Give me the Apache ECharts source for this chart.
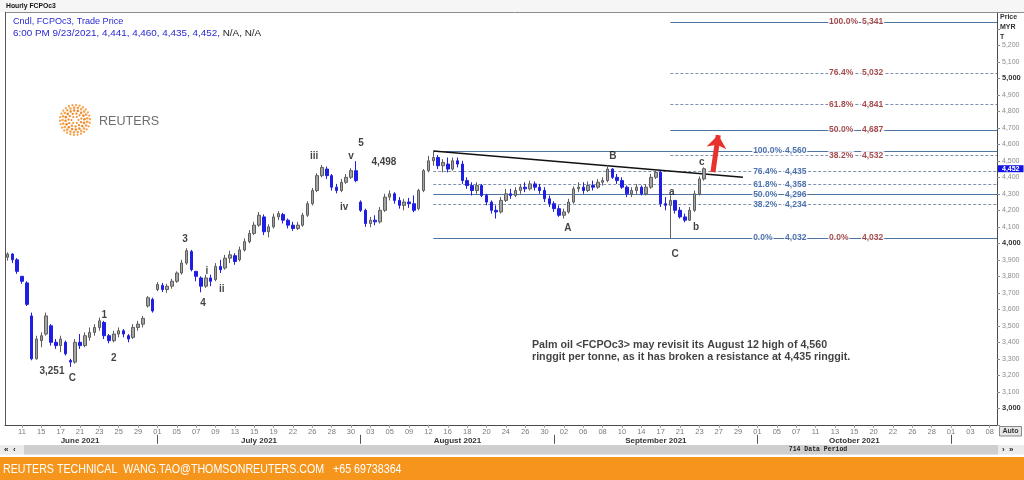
<!DOCTYPE html>
<html>
<head>
<meta charset="utf-8">
<script src="https://cdn.jsdelivr.net/npm/echarts/dist/echarts.min.js"></script>
<style>
html,body{margin:0;padding:0;background:#ffffff;}
#chart{width:1024px;height:480px;}
</style>
</head>
<body>
<div id="chart"></div>
<script>
// ---------------- DATA ----------------
const dayLabels = ['11','15','17','21','23','25','29','01','05','07','09','13','15','19','22','26','28','30',
  '03','05','09','12','16','18','20','24','26','30','02','06','08','10','14','17','21','23','27','29',
  '01','05','07','11','13','15','20','22','26','28','01','03','08'];
const monthNames = ['June 2021','July 2021','August 2021','September 2021','October 2021'];
const monthLabelSlots = [15, 52, 93, 134, 175];
const monthSepSlots = [31, 73, 113, 155, 195];

const opens = [3915,3935,3900,3800,3760,3560,3300,3410,3450,3500,
  3400,3380,3400,3290,3280,3400,3380,3430,3460,3490,
  3520,3440,3410,3450,3470,3440,3430,3490,3510,3620,
  3660,3720,3745,3720,3740,3770,3820,3880,3950,3830,
  3790,3740,3790,3780,3860,3850,3910,3925,3900,3960,
  4010,4060,4110,4160,4070,4100,4160,4175,4140,4110,
  4090,4110,4170,4240,4320,4410,4450,4410,4340,4320,
  4370,4400,4440,4250,4200,4120,4140,4130,4200,4280,
  4300,4260,4230,4250,4240,4210,4320,4440,4500,4520,
  4470,4480,4450,4500,4480,4380,4350,4320,4350,4290,
  4250,4200,4190,4260,4300,4290,4320,4340,4330,4360,
  4340,4320,4270,4240,4210,4170,4190,4250,4330,4340,
  4320,4350,4340,4370,4380,4450,4400,4380,4340,4300,
  4320,4340,4300,4340,4400,4430,4240,4230,4260,4200,
  4160,4140,4200,4300,4390];
const closes = [3935,3900,3830,3770,3630,3300,3420,3440,3560,3400,
  3380,3420,3330,3280,3400,3380,3440,3460,3490,3530,
  3440,3410,3450,3470,3450,3420,3490,3510,3545,3670,
  3590,3750,3720,3740,3770,3820,3880,3955,3840,3800,
  3740,3790,3770,3860,3840,3910,3930,3890,3960,4010,
  4060,4110,4170,4070,4100,4160,4180,4140,4110,4090,
  4110,4170,4240,4320,4410,4460,4410,4340,4320,4370,
  4400,4440,4380,4200,4120,4140,4130,4200,4280,4300,
  4260,4230,4250,4240,4200,4320,4440,4500,4520,4470,
  4490,4450,4500,4480,4380,4350,4320,4350,4290,4250,
  4200,4190,4260,4300,4290,4320,4340,4330,4360,4340,
  4320,4270,4240,4210,4170,4190,4250,4330,4340,4320,
  4350,4340,4370,4380,4450,4400,4380,4340,4300,4320,
  4340,4300,4340,4400,4430,4240,4230,4260,4200,4160,
  4140,4200,4300,4390,4452];
const lows = [3895,3880,3815,3755,3620,3291,3295,3370,3440,3380,
  3360,3340,3320,3251,3270,3360,3370,3410,3440,3470,
  3420,3394,3400,3430,3430,3400,3420,3470,3490,3610,
  3580,3710,3705,3700,3725,3760,3810,3870,3830,3770,
  3703,3730,3740,3770,3820,3840,3880,3870,3890,3950,
  4000,4050,4100,4050,4036,4090,4140,4120,4090,4075,
  4080,4100,4160,4230,4310,4400,4390,4320,4303,4310,
  4360,4390,4370,4190,4100,4097,4110,4120,4190,4260,
  4240,4210,4200,4215,4188,4200,4310,4430,4470,4450,
  4430,4430,4440,4460,4360,4330,4290,4300,4280,4230,
  4180,4150,4180,4250,4270,4280,4300,4310,4320,4320,
  4300,4250,4220,4190,4160,4150,4180,4240,4310,4300,
  4310,4320,4330,4350,4370,4390,4360,4330,4280,4280,
  4300,4290,4290,4330,4390,4220,4200,4032,4180,4150,
  4127,4135,4190,4290,4380];
const highs = [3945,3940,3910,3800,3770,3580,3440,3460,3580,3510,
  3420,3440,3410,3300,3420,3450,3460,3490,3510,3550,
  3530,3450,3470,3490,3480,3450,3510,3530,3560,3680,
  3670,3765,3760,3755,3785,3830,3900,3970,3960,3830,
  3800,3810,3810,3880,3900,3930,3955,3940,3980,4030,
  4080,4130,4190,4175,4115,4180,4195,4185,4150,4130,
  4130,4185,4255,4335,4425,4475,4465,4420,4360,4390,
  4420,4455,4498,4260,4210,4160,4170,4220,4300,4321,
  4310,4280,4270,4275,4290,4330,4450,4530,4560,4535,
  4510,4520,4520,4520,4500,4400,4370,4370,4360,4300,
  4260,4230,4280,4330,4330,4340,4360,4370,4380,4375,
  4360,4340,4290,4255,4230,4210,4270,4345,4370,4370,
  4375,4380,4390,4400,4473,4455,4420,4400,4350,4340,
  4360,4350,4360,4420,4445,4440,4280,4290,4260,4220,
  4180,4220,4320,4405,4460];

const bluePct = ['100.0%','76.4%','61.8%','50.0%','38.2%','0.0%'];
const blueVal = [4560,4435,4358,4296,4234,4032];
const redPct  = ['100.0%','76.4%','61.8%','50.0%','38.2%','0.0%'];
const redVal  = [5341,5032,4841,4687,4532,4032];
const blueAnchorSlot = 88;   // Aug 12 high
const redAnchorSlot = 137;   // wave C low

const trendStart = [88, 4560];
const trendEnd = [152, 4401];
const arrowFrom = [145.8, 4432];
const arrowTo = [146.9, 4656];

const waveText  = ['3,251','C','1','2','3','i','4','ii','iii','iv','v','5','4,498','A','B','C','a','b','c'];
const waveSlot  = [9.2,13.4,20.0,22.0,36.7,41.2,40.4,44.3,63.4,69.6,71.0,73.1,77.8,115.8,125.1,138.0,137.3,142.3,143.5];
const wavePrice = [3226,3184,3565,3305,4026,3832,3638,3723,4529,4220,4529,4608,4493,4093,4529,3935,4311,4099,4493];

const noteText = 'Palm oil <FCPOc3> may revisit its August 12 high of 4,560\nringgit per tonne, as it has broken a resistance at 4,435 ringgit.';
const noteAnchor = [108.4, 3347];

// ---------------- BUILD ----------------
const FONT = '"Liberation Sans", Arial, Helvetica, sans-serif';
const fmt = v => String(v).replace(/\B(?=(\d{3})+(?!\d))/g, ',');
const N_SLOTS = 205;
const END_X = N_SLOTS - 0.5;

const slotLabels = new Array(N_SLOTS).fill('');
dayLabels.forEach((d, k) => { slotLabels[3 + 4 * k] = d; });
const monthSlotLabels = new Array(N_SLOTS).fill('');
monthNames.forEach((m, k) => { monthSlotLabels[monthLabelSlots[k]] = m; });
const sepSet = new Set(monthSepSlots);

const candleData = opens.map((o, i) => [o, closes[i], lows[i], highs[i]]);
const lastClose = closes[closes.length - 1];

const SOLID = new Set(['100.0%', '50.0%', '0.0%']);
function fibStyle(p) {
  return SOLID.has(p) ? {color: '#4f76a3', width: 1, type: 'solid'}
                      : {color: '#7e90ae', width: 1, type: [3, 2]};
}
const fibLines = [];
blueVal.forEach((v, k) => fibLines.push([{coord: [blueAnchorSlot, v], lineStyle: fibStyle(bluePct[k])}, {coord: [END_X, v]}]));
redVal.forEach((v, k) => fibLines.push([{coord: [redAnchorSlot, v], lineStyle: fibStyle(redPct[k])}, {coord: [END_X, v]}]));
fibLines.push([{coord: trendStart, lineStyle: {color: '#111', width: 1.5, type: 'solid'}}, {coord: trendEnd}]);

const BLUE_T = '#1f4f98', RED_T = '#8e1b1b';
const BLUE_PCT_X = 153.9, BLUE_VAL_X = 160.5, RED_PCT_X = 169.6, RED_VAL_X = 176.4;
const fibLabelData = [];
bluePct.forEach((p, k) => {
  fibLabelData.push({name: p, value: [BLUE_PCT_X, blueVal[k]], label: {color: BLUE_T}});
  fibLabelData.push({name: fmt(blueVal[k]), value: [BLUE_VAL_X, blueVal[k]], label: {color: BLUE_T}});
});
redPct.forEach((p, k) => {
  fibLabelData.push({name: p, value: [RED_PCT_X, redVal[k]], label: {color: RED_T}});
  fibLabelData.push({name: fmt(redVal[k]), value: [RED_VAL_X, redVal[k]], label: {color: RED_T}});
});

const waveData = waveText.map((t, i) => ({name: t, value: [waveSlot[i], wavePrice[i]]}));

// Reuters logo dots (decoration)
const logo = [];
[[3.5, 6, 1.0], [6.5, 11, 1.15], [9.5, 16, 1.3], [12.4, 21, 1.3], [15.0, 26, 1.15]].forEach(([r, n, s], ri) => {
  for (let j = 0; j < n; j++) {
    const a = j / n * 2 * Math.PI + ri * 0.35;
    logo.push({type: 'circle', silent: true, shape: {cx: 75 + r * Math.cos(a), cy: 120 + r * Math.sin(a), r: s},
      style: {fill: ri >= 3 ? '#f4a24e' : '#ee8a2b'}});
  }
});

function txt(x, y, text, font, fill, align, sx) {
  return {type: 'text', x: x, y: y, silent: true, scaleX: sx || 1,
    style: {text: text, font: font, fill: fill, align: align || 'left', textAlign: align || 'left',
      verticalAlign: 'middle', textVerticalAlign: 'middle'}};
}

const graphics = [
  {type: 'rect', silent: true, shape: {x: 0, y: 0, width: 1024, height: 12}, style: {fill: '#f6f6f6'}},
  {type: 'line', silent: true, shape: {x1: 5, y1: 12.5, x2: 1024, y2: 12.5}, style: {stroke: '#8c8c8c', lineWidth: 1}},
  {type: 'line', silent: true, shape: {x1: 5.5, y1: 12, x2: 5.5, y2: 425}, style: {stroke: '#555', lineWidth: 1}},
  txt(6, 6, 'Hourly FCPOc3', 'bold 6.8px ' + FONT, '#111'),
  txt(13, 21.7, 'Cndl, FCPOc3, Trade Price', '9.1px ' + FONT, '#2a2ad0'),
  {type: 'text', x: 13, y: 33.3, silent: true, style: {
    text: '{a|6:00 PM 9/23/2021, 4,441, 4,460, 4,435, 4,452,} {k|N/A, N/A}',
    font: '9.9px ' + FONT, verticalAlign: 'middle', textVerticalAlign: 'middle',
    rich: {a: {fill: '#2a2ad0', color: '#2a2ad0', fontSize: 9.9, fontFamily: FONT},
           k: {fill: '#222', color: '#222', fontSize: 9.9, fontFamily: FONT}}}},
  txt(1000, 17, 'Price', 'bold 7px ' + FONT, '#333'),
  txt(1000, 27, 'MYR', 'bold 7px ' + FONT, '#333'),
  txt(1000, 37, 'T', 'bold 7px ' + FONT, '#333'),
  txt(99, 121.5, 'REUTERS', '12.6px ' + FONT, '#6e6e6e'),
  {type: 'rect', silent: true, shape: {x: 999.5, y: 426.5, width: 22, height: 9.5}, style: {fill: '#e6e6e6', stroke: '#8a8a8a', lineWidth: 1}},
  txt(1010.5, 431.5, 'Auto', 'bold 7px ' + FONT, '#333', 'center'),
  {type: 'rect', silent: true, shape: {x: 0, y: 445, width: 1024, height: 9.5}, style: {fill: '#ececec'}},
  {type: 'rect', silent: true, shape: {x: 24, y: 445, width: 974, height: 9.5}, style: {fill: '#cfcfcf'}},
  txt(4, 449.5, '\u00ab  \u2039', 'bold 8px ' + FONT, '#222'),
  txt(1002, 449.5, '\u203a  \u00bb', 'bold 8px ' + FONT, '#222'),
  txt(818, 449.5, '714 Data Period', 'bold 6.5px "Liberation Mono", "DejaVu Sans Mono", monospace', '#222', 'center'),
  {type: 'rect', silent: true, shape: {x: 0, y: 457, width: 1024, height: 23}, style: {fill: '#f6951c'}},
  txt(3, 469.5, 'REUTERS TECHNICAL  WANG.TAO@THOMSONREUTERS.COM   +65 69738364',
      '13px "Liberation Sans", sans-serif', '#ffffff', 'left', 0.82)
].concat(logo);

const option = {
  animation: false,
  backgroundColor: '#ffffff',
  grid: {left: 5, right: 27, top: 12.3, bottom: 55.2, containLabel: false},
  graphic: graphics,
  xAxis: [
    {type: 'category', data: slotLabels, position: 'bottom', boundaryGap: true,
      axisLine: {show: true, onZero: false, lineStyle: {color: '#4a4a4a', width: 1}},
      axisTick: {show: true, alignWithLabel: true, interval: (i) => slotLabels[i] !== '', length: 3, lineStyle: {color: '#999'}},
      axisLabel: {show: true, interval: 0, margin: 3.5, fontSize: 7.5, color: '#7a7a7a', fontFamily: FONT},
      splitLine: {show: false}},
    {type: 'category', data: monthSlotLabels, position: 'bottom', offset: 10, boundaryGap: true,
      axisLine: {show: false, onZero: false},
      axisTick: {show: true, alignWithLabel: true, interval: (i) => sepSet.has(i), length: 9, lineStyle: {color: '#555'}},
      axisLabel: {show: true, interval: 0, margin: 2, fontSize: 8, fontWeight: 'bold', color: '#333', fontFamily: FONT},
      splitLine: {show: false}},
    {type: 'value', min: -0.5, max: END_X, show: false, axisLine: {onZero: false}, splitLine: {show: false}}
  ],
  yAxis: {type: 'value', position: 'right', min: 2900, max: 5400, interval: 100,
    axisLine: {show: true, onZero: false, lineStyle: {color: '#4a4a4a'}},
    axisTick: {show: true, length: 3, lineStyle: {color: '#888'}},
    splitLine: {show: false},
    axisLabel: {margin: 5, fontSize: 7, color: '#8c8c8c', fontFamily: FONT,
      formatter: v => (v < 3000 || v > 5200) ? '' : (v % 1000 === 0 ? '{b|' + fmt(v) + '}' : fmt(v)),
      rich: {b: {fontSize: 7.5, fontWeight: 'bold', color: '#333', fontFamily: FONT}}}},
  series: [
    {type: 'line', name: 'fib', xAxisIndex: 2, yAxisIndex: 0, data: [], z: 1, silent: true,
      markLine: {z: 1, silent: true, symbol: ['none', 'none'], label: {show: false}, animation: false, data: fibLines}},
    {type: 'candlestick', name: 'FCPOc3', xAxisIndex: 0, yAxisIndex: 0, data: candleData, barWidth: 3, z: 2,
      itemStyle: {color: '#a4a4a4', color0: '#1f1fe4', borderColor: '#5e5e5e', borderColor0: '#1f1fe4', borderWidth: 1},
      markLine: {z: 2, silent: true, symbol: ['none', 'none'], animation: false,
        lineStyle: {color: 'rgba(0,0,0,0)', width: 0},
        label: {show: true, position: 'end', distance: 1, formatter: fmt(lastClose), backgroundColor: '#1414e6',
          color: '#ffffff', fontSize: 7, fontWeight: 'bold', fontFamily: FONT, padding: [0, 4], lineHeight: 7},
        data: [{yAxis: lastClose}]}},
    {type: 'line', name: 'arrow', xAxisIndex: 2, yAxisIndex: 0, data: [], z: 3, silent: true,
      markLine: {z: 3, silent: true, symbol: ['none', 'arrow'], symbolSize: [15, 13], label: {show: false}, animation: false,
        lineStyle: {color: '#e8322c', width: 5, type: 'solid', opacity: 1},
        data: [[{coord: arrowFrom}, {coord: arrowTo}]]}},
    {type: 'scatter', name: 'fibLabels', xAxisIndex: 2, yAxisIndex: 0, data: fibLabelData, symbolSize: 0, z: 10, silent: true,
      itemStyle: {color: 'rgba(0,0,0,0)'},
      label: {show: true, position: 'right', distance: 0, formatter: '{b}', fontSize: 8.5, fontWeight: 'bold',
        fontFamily: FONT, backgroundColor: '#ffffff', padding: [0, 1]}},
    {type: 'scatter', name: 'waves', xAxisIndex: 2, yAxisIndex: 0, data: waveData, symbolSize: 0, z: 10, silent: true,
      itemStyle: {color: 'rgba(0,0,0,0)'},
      label: {show: true, position: 'inside', formatter: '{b}', fontSize: 10, fontWeight: 'bold', color: '#111', fontFamily: FONT}},
    {type: 'scatter', name: 'note', xAxisIndex: 2, yAxisIndex: 0, data: [{name: 'note', value: noteAnchor}], symbolSize: 0, z: 10, silent: true,
      itemStyle: {color: 'rgba(0,0,0,0)'},
      label: {show: true, position: 'right', distance: 0, formatter: () => noteText, fontSize: 10.7, fontWeight: 'bold',
        lineHeight: 12, color: '#111', fontFamily: FONT, align: 'left'}}
  ]
};

const chart = echarts.init(document.getElementById('chart'), null, {renderer: 'canvas'});
chart.setOption(option);
</script>
</body>
</html>
